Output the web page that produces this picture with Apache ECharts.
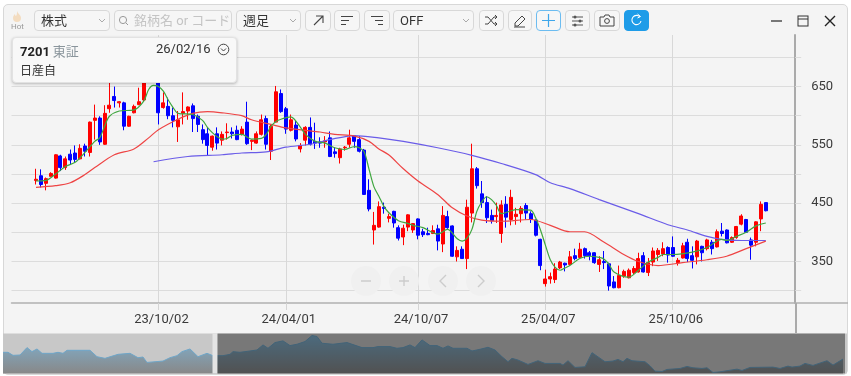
<!DOCTYPE html>
<html>
<head>
<meta charset="utf-8">
<script src="https://cdn.jsdelivr.net/npm/echarts@6/dist/echarts.min.js"></script>
<style>
html, body { margin: 0; padding: 0; background: #fff; overflow: hidden; }
body { width: 851px; height: 376px; position: relative; font-family: Roboto, "Noto Sans CJK JP", sans-serif; color: #333; }
#win { position: absolute; left: 3px; top: 4px; width: 843px; height: 369px; background: #f4f4f4; border: 1px solid #d8d8d8; border-radius: 5px; box-sizing: content-box; }
#chart { position: absolute; left: 0; top: 0; width: 851px; height: 376px; }
.box { position: absolute; top: 10px; height: 19px; border: 1px solid #d8d8d8; border-radius: 4px; background: #f6f6f6; font-size: 13px; line-height: 19px; box-sizing: content-box; }
.box span { position: absolute; left: 6px; top: 0; white-space: nowrap; }
.box svg { position: absolute; left: 0; top: 0; }
.overlay { position: absolute; }
#panel { position: absolute; left: 12px; top: 37px; width: 223px; height: 44px; background: #f8f8f8; border: 1px solid #e2e2e2; border-radius: 4px; box-shadow: 0 1px 3px rgba(0,0,0,.25); }
#panel div { position: absolute; white-space: nowrap; }
</style>
</head>
<body>
<div id="win"></div>
<div id="chart"></div>

<!-- toolbar -->
<svg class="overlay" style="left:11px;top:11px" width="12" height="11" viewBox="0 0 12 11"><path d="M6 0C7 3 10 4 10 7a4 4 0 0 1-8 0C2 5 3 4 4 3c0 1 .5 2 1 2C6 4 6 2 6 0z" fill="#f3dcc0"/></svg>
<div class="overlay" style="left:11px;top:22px;font-size:8px;color:#999;line-height:10px">Hot</div>

<div class="box" style="left:34px;width:74px"><span>株式</span><svg width="74" height="19"><path d="M64 8l3 3 3-3" fill="none" stroke="#aaa"/></svg></div>
<div class="box" style="left:114px;width:116px"><span style="left:19px;color:#c4c4c4">銘柄名 or コード</span><svg width="20" height="19"><circle cx="8" cy="9" r="3.6" fill="none" stroke="#999"/><path d="M11 12l2 2" stroke="#999"/></svg></div>
<div class="box" style="left:236px;width:63px"><span>週足</span><svg width="63" height="19"><path d="M53 8l3 3 3-3" fill="none" stroke="#aaa"/></svg></div>
<div class="box" style="left:305px;width:24px"><svg width="24" height="19"><path d="M8 14l9-9M10 5h7v7" fill="none" stroke="#444" stroke-width="1.1"/></svg></div>
<div class="box" style="left:334px;width:24px"><svg width="24" height="19"><path d="M6 5.5h12M6 9.5h8M6 13.5h5" stroke="#444"/></svg></div>
<div class="box" style="left:364px;width:24px"><svg width="24" height="19"><path d="M6 5.5h12M10 9.5h8M13 13.5h5" stroke="#444"/></svg></div>
<div class="box" style="left:393px;width:79px"><span>OFF</span><svg width="79" height="19"><path d="M69 8l3 3 3-3" fill="none" stroke="#aaa"/></svg></div>
<div class="box" style="left:479px;width:23px"><svg width="23" height="19"><path d="M5 6h3l6 7h3M5 13h3l6-7h3M15 4l2 2-2 2M15 11l2 2-2 2" fill="none" stroke="#444"/></svg></div>
<div class="box" style="left:508px;width:22px"><svg width="22" height="19"><path d="M6 15v-3l7-7 3 3-7 7zM5 16h11" fill="none" stroke="#444"/></svg></div>
<div class="box" style="left:536px;width:23px;border-color:#6cbcf0"><svg width="23" height="19"><path d="M11.5 3v13M5 9.5h13" stroke="#3ea6ea" stroke-width="1.2"/></svg></div>
<div class="box" style="left:565px;width:23px"><svg width="23" height="19"><path d="M6 6h11M6 10h11M6 14h11" stroke="#555"/><circle cx="9" cy="6" r="1.5" fill="#555"/><circle cx="14" cy="10" r="1.5" fill="#555"/><circle cx="9" cy="14" r="1.5" fill="#555"/></svg></div>
<div class="box" style="left:594px;width:24px"><svg width="24" height="19"><path d="M5 6h4l1-2h4l1 2h4v9H5z" fill="none" stroke="#444"/><circle cx="12" cy="10" r="2.4" fill="none" stroke="#444"/></svg></div>
<div class="box" style="left:624px;width:23px;background:#1e9ce8;border-color:#1e9ce8"><svg width="23" height="19"><path d="M15 6a4.6 4.6 0 1 0 1 4" fill="none" stroke="#fff" stroke-width="1.1"/><path d="M12.5 3l3 2.5-3 1.5" fill="none" stroke="#fff"/></svg></div>

<svg class="overlay" style="left:770px;top:14px" width="66" height="14"><path d="M1 7h11" stroke="#333" stroke-width="1.3"/><rect x="28" y="2" width="10" height="10" fill="none" stroke="#333"/><path d="M28 5h10" stroke="#333"/><path d="M55 2l10 10M65 2L55 12" stroke="#222" stroke-width="1.4"/></svg>

<!-- pan / zoom buttons -->
<svg class="overlay" style="left:350px;top:265px" width="150" height="32">
  <g fill="#f0f0f0"><circle cx="16" cy="16" r="15"/><circle cx="54" cy="16" r="15"/><circle cx="93" cy="16" r="15"/><circle cx="131" cy="16" r="15"/></g>
  <g fill="none" stroke="#cccccc" stroke-width="1.4"><path d="M11 16h10M49 16h10M54 11v10M96 10l-6 6 6 6M128 10l6 6-6 6"/></g>
</svg>

<!-- info panel -->
<div id="panel">
  <div style="left:7px;top:3px;font-size:13px;font-weight:700;color:#222">7201<span style="font-weight:400;color:#8a959c;margin-left:3px">東証</span></div>
  <div style="left:143px;top:3px;font-size:13px">26/02/16</div>
  <svg style="position:absolute;left:204px;top:5px" width="13" height="13"><circle cx="6.5" cy="6.5" r="5.3" fill="none" stroke="#444"/><path d="M4 5.5l2.5 2.5L9 5.5" fill="none" stroke="#444"/></svg>
  <div style="left:7px;top:23px;font-size:12px">日産自</div>
</div>

<script>
// weekly dates
const weeks = [
  '23/04/10','23/04/17','23/04/24','23/05/01','23/05/08','23/05/15','23/05/22','23/05/29','23/06/05','23/06/12',
  '23/06/19','23/06/26','23/07/03','23/07/10','23/07/17','23/07/24','23/07/31','23/08/07','23/08/14','23/08/21',
  '23/08/28','23/09/04','23/09/11','23/09/18','23/09/25','23/10/02','23/10/09','23/10/16','23/10/23','23/10/30',
  '23/11/06','23/11/13','23/11/20','23/11/27','23/12/04','23/12/11','23/12/18','23/12/25','24/01/01','24/01/08',
  '24/01/15','24/01/22','24/01/29','24/02/05','24/02/12','24/02/19','24/02/26','24/03/04','24/03/11','24/03/18',
  '24/03/25','24/04/01','24/04/08','24/04/15','24/04/22','24/04/29','24/05/06','24/05/13','24/05/20','24/05/27',
  '24/06/03','24/06/10','24/06/17','24/06/24','24/07/01','24/07/08','24/07/15','24/07/22','24/07/29','24/08/05',
  '24/08/12','24/08/19','24/08/26','24/09/02','24/09/09','24/09/16','24/09/23','24/09/30','24/10/07','24/10/14',
  '24/10/21','24/10/28','24/11/04','24/11/11','24/11/18','24/11/25','24/12/02','24/12/09','24/12/16','24/12/23',
  '24/12/30','25/01/06','25/01/13','25/01/20','25/01/27','25/02/03','25/02/10','25/02/17','25/02/24','25/03/03',
  '25/03/10','25/03/17','25/03/24','25/03/31','25/04/07','25/04/14','25/04/21','25/04/28','25/05/05','25/05/12',
  '25/05/19','25/05/26','25/06/02','25/06/09','25/06/16','25/06/23','25/06/30','25/07/07','25/07/14','25/07/21',
  '25/07/28','25/08/04','25/08/11','25/08/18','25/08/25','25/09/01','25/09/08','25/09/15','25/09/22','25/09/29',
  '25/10/06','25/10/13','25/10/20','25/10/27','25/11/03','25/11/10','25/11/17','25/11/24','25/12/01','25/12/08',
  '25/12/15','25/12/22','25/12/29','26/01/05','26/01/12','26/01/19','26/01/26','26/02/02','26/02/09','26/02/16'
];
const tickDates = ['23/10/02', '24/04/01', '24/10/07', '25/04/07', '25/10/06'];
const priceLines = [300, 350, 400, 450, 500, 550, 600, 650, 700];
const priceLabels = [350, 450, 550, 650];

// open, close, low, high
const ohlc = [
  [489,491,482,509],[497,482,477,508],[484,492,472,494],[496,501,496,503],[493,533,492,534],
  [531,511,505,533],[511,526,507,530],[534,524,516,542],[536,525,520,549],[526,544,525,551],
  [548,539,530,552],[537,589,530,590],[592,596,559,619],[596,555,550,599],[551,604,550,618],
  [612,618,605,662],[633,626,614,650],[622,624,614,625],[622,582,575,624],[582,599,581,600],
  [605,616,604,619],[619,624,618,648],[627,668,625,680],[680,670,660,690],[690,675,660,700],
  [668,605,585,690],[614,622,612,640],[616,600,594,631],[600,592,580,614],[581,593,555,608],
  [604,607,585,640],[608,615,593,616],[617,595,572,621],[599,585,572,602],[576,559,552,585],
  [569,549,532,580],[546,565,540,566],[569,553,542,580],[558,568,549,573],[571,572,559,587],
  [572,569,561,580],[575,559,558,583],[568,577,566,582],[589,552,550,624],[556,558,541,559],
  [553,569,552,573],[568,593,566,602],[595,551,542,600],[539,582,524,585],[589,641,589,651],
  [638,607,605,645],[612,577,569,615],[575,593,573,602],[584,560,556,591],[543,549,537,553],
  [558,580,549,582],[580,551,549,597],[556,553,543,588],[555,553,545,563],[555,557,545,565],
  [562,530,529,573],[538,535,528,546],[528,543,518,545],[545,546,540,548],[551,562,545,576],
  [566,556,545,566],[559,539,537,565],[541,465,464,543],[472,440,436,491],[404,412,379,435],
  [409,444,408,453],[443,441,432,451],[424,427,417,432],[436,416,408,437],[408,390,386,412],
  [392,407,378,413],[409,430,402,431],[404,415,399,416],[423,395,388,424],[401,396,392,406],
  [398,396,395,408],[398,403,397,412],[406,385,369,413],[380,429,366,445],[427,408,406,437],
  [411,359,358,412],[358,369,350,376],[371,355,355,376],[355,443,337,456],[433,509,417,552],
  [509,480,475,512],[466,451,442,488],[451,425,416,462],[429,420,415,439],[427,429,416,451],
  [398,447,382,455],[448,426,408,462],[422,460,412,473],[427,431,413,442],[432,441,417,445],
  [446,433,422,450],[432,422,416,436],[421,395,393,422],[388,343,335,389],[312,320,307,336],
  [320,324,312,331],[319,337,313,347],[339,349,337,351],[347,344,333,348],[345,358,343,368],
  [360,355,352,372],[357,371,356,382],[372,360,355,374],[365,360,352,368],[365,348,346,366],
  [345,353,332,359],[350,348,337,368],[346,308,300,348],[315,305,304,325],[305,326,304,343],
  [325,333,322,336],[322,335,321,338],[331,338,328,342],[332,355,331,365],[360,332,331,366],
  [331,348,325,356],[349,368,342,374],[362,369,351,373],[363,372,359,383],[374,361,348,376],
  [374,359,358,393],[348,352,343,356],[356,377,355,382],[383,355,349,389],[360,352,338,376],
  [358,385,345,387],[376,365,350,377],[372,387,369,389],[383,372,362,387],[375,401,374,405],
  [402,398,393,416],[404,382,381,405],[383,391,382,393],[391,410,389,411],[414,428,412,431],
  [422,400,400,423],[387,378,353,391],[383,418,376,419],[423,448,402,453],[451,437,436,451]
];

// moving averages: [week number, price]
const maShort = [
  [0,488],[2,489],[4,500],[6,513],[8,520],[10,537],[12,556],[13,562],[14,582],[15,599],[17,608],[20,610],
  [22,625],[23,645],[24,652],[25,650],[26,642],[27,627],[28,614],[29,604],[32,602],[34,592],[35,580],[36,571],
  [37,564],[38,560],[39,561],[40,566],[42,568],[44,560],[46,561],[47,568],[48,582],[49,590],[50,594],[52,598],
  [54,580],[55,568],[57,556],[59,553],[61,545],[63,542],[65,547],[66,545],[67,538],[68,508],[69,478],[70,462],
  [71,445],[72,434],[74,420],[76,415],[77,412],[79,408],[82,397],[84,405],[86,389],[87,385],[88,390],[89,405],
  [90,436],[91,452],[92,461],[93,456],[94,446],[95,432],[97,437],[98,439],[101,438],[102,425],[103,404],[104,378],
  [105,353],[106,340],[107,335],[108,339],[109,343],[111,355],[113,359],[115,357],[116,354],[117,345],[118,332],
  [121,323],[123,335],[125,349],[127,357],[128,362],[130,362],[134,366],[137,374],[140,388],[141,386],[143,393],
  [145,400],[147,411],[149,416]
];
const maMid = [
  [0,477],[4,480],[7,485],[10,499],[12,511],[16,533],[20,543],[23,562],[25,576],[29,594],[32,604],[35,607],
  [38,605],[42,600],[44,593],[48,585],[51,579],[55,575],[58,572],[61,568],[65,565],[68,556],[70,543],[72,533],
  [75,509],[78,488],[82,465],[85,442],[88,428],[91,421],[95,419],[101,422],[105,412],[109,401],[112,401],[116,383],
  [120,362],[123,350],[127,343],[132,348],[137,353],[141,359],[145,372],[149,385]
];
const maLong = [
  [24,521],[31,530],[38,533],[42,536],[47,538],[51,546],[56,551],[60,559],[65,566],[70,562],[75,556],[82,545],
  [89,532],[95,518],[102,499],[105,485],[109,475],[115,456],[123,432],[129,413],[133,404],[137,393],[140,388],
  [144,386],[149,386]
];

// overview strip along the bottom: [bar number, height]
const overview = [
  [0,63],[5,63],[10,54],[17,55],[24,77],[29,65],[34,73],[39,60],[50,60],[55,63],[60,60],[64,69],[87,69],[94,50],
  [102,45],[115,57],[127,60],[135,47],[140,49],[144,33],[160,37],[167,47],[174,53],[179,65],[187,73],[195,50],
  [204,60],[210,53],[220,53],[227,57],[230,65],[237,63],[247,67],[254,70],[260,85],[265,75],[272,92],[280,97],
  [287,83],[294,87],[302,95],[309,113],[314,110],[319,90],[330,87],[344,92],[359,77],[370,77],[375,80],[387,80],
  [394,75],[400,77],[407,85],[412,77],[419,100],[427,83],[434,83],[440,75],[445,82],[450,75],[464,75],[469,67],
  [477,72],[485,78],[492,70],[499,50],[505,35],[509,45],[515,40],[525,27],[535,38],[542,30],[557,30],[560,25],
  [565,38],[572,18],[582,20],[589,62],[602,35],[610,37],[615,42],[620,35],[624,45],[629,38],[642,35],[647,23],
  [652,7],[659,6],[664,12],[677,15],[684,21],[690,17],[699,15],[704,17],[710,3],[717,5],[734,13],[739,9],[747,18],
  [770,19],[777,15],[785,22],[789,19],[797,22],[802,30],[810,24],[824,38],[830,25],[840,43]
];

const leadPad = 5, tailPad = 6;
const axisWeeks = Array(leadPad).fill('').concat(weeks, Array(tailPad).fill(''));
const candleData = Array(leadPad).fill('-').concat(ohlc, Array(tailPad).fill('-'));
const shift = list => list.map(p => [p[0] + leadPad, p[1]]);
const isTick = (i, v) => tickDates.indexOf(v) >= 0;

const lineSeries = (data, color, width) => ({
  type: 'line', data: shift(data), symbol: 'none', smooth: 0.3, z: 5,
  lineStyle: { color: color, width: width }, silent: true
});

const chart = echarts.init(document.getElementById('chart'), null, { width: 851, height: 376 });
chart.setOption({
  animation: false,
  backgroundColor: 'transparent',
  textStyle: { fontFamily: 'Roboto, "Noto Sans CJK JP", sans-serif' },
  grid: [
    { left: 11.5, top: 35, width: 783.7, height: 268 },
    { left: 3, top: 333.5, width: 844, height: 40, show: true, backgroundColor: '#c8c8c8', borderWidth: 0 }
  ],
  xAxis: [
    {
      type: 'category', gridIndex: 0, data: axisWeeks, boundaryGap: false,
      axisLine: { lineStyle: { color: '#b0b0b0', width: 1.5 } },
      axisTick: { interval: isTick, length: 7, lineStyle: { color: '#d4d4d4' } },
      splitLine: { show: true, interval: isTick, lineStyle: { color: '#d8d8d8', width: 1 } },
      axisLabel: { interval: isTick, margin: 10, fontSize: 13, color: '#3a3a3a', padding: [0, 0, 0, 6], hideOverlap: false }
    },
    { type: 'value', gridIndex: 1, min: 0, max: 844, show: false }
  ],
  yAxis: [
    {
      type: 'value', gridIndex: 0, position: 'right', min: 278.8, max: 738.4, scale: true,
      axisLine: { show: true, lineStyle: { color: '#aaaaaa', width: 2 } },
      axisTick: { show: true, length: 6, customValues: priceLines, lineStyle: { color: '#dcdcdc' } },
      splitLine: { show: true, lineStyle: { color: '#dcdcdc', width: 1.2 } },
      axisLabel: { margin: 16, fontSize: 13, color: '#3a3a3a', customValues: priceLabels, padding: [2, 0, 0, 0] }
    },
    { type: 'value', gridIndex: 1, min: 0, max: 119, show: false }
  ],
  series: [
    {
      type: 'candlestick', data: candleData, barWidth: 3.5, z: 3, silent: true,
      itemStyle: { color: '#ff0000', color0: '#0000ff', borderColor: '#ff0000', borderColor0: '#0000ff', borderWidth: 1 }
    },
    lineSeries(maLong, '#6a5ce8', 1.2),
    lineSeries(maMid, '#ee4444', 1.2),
    lineSeries(maShort, '#3fa63f', 1.2),
    {
      type: 'line', xAxisIndex: 1, yAxisIndex: 1, data: overview, symbol: 'none', silent: true,
      lineStyle: { color: '#6fa6c8', width: 1 },
      areaStyle: {
        opacity: 1,
        color: { type: 'linear', x: 0, y: 0, x2: 0, y2: 1, colorStops: [
          { offset: 0, color: '#7fb2d2' }, { offset: 1, color: '#888888' }
        ] }
      },
      markArea: {
        silent: true, z: 10,
        data: [
          [{ xAxis: 209.5, itemStyle: { color: '#e4e4e4', opacity: 1 } }, { xAxis: 214.5 }],
          [{ xAxis: 214.5, itemStyle: { color: '#000', opacity: 0.4 } }, { xAxis: 842 }]
        ]
      }
    }
  ],
  graphic: [
    // axis lines run on past the plot
    { type: 'line', shape: { x1: 795, y1: 303, x2: 848, y2: 303 }, style: { stroke: '#b0b0b0', lineWidth: 1.5 }, silent: true },
    { type: 'line', shape: { x1: 796, y1: 303, x2: 796, y2: 333 }, style: { stroke: '#aaaaaa', lineWidth: 2 }, silent: true }
  ]
});
</script>
</body>
</html>
